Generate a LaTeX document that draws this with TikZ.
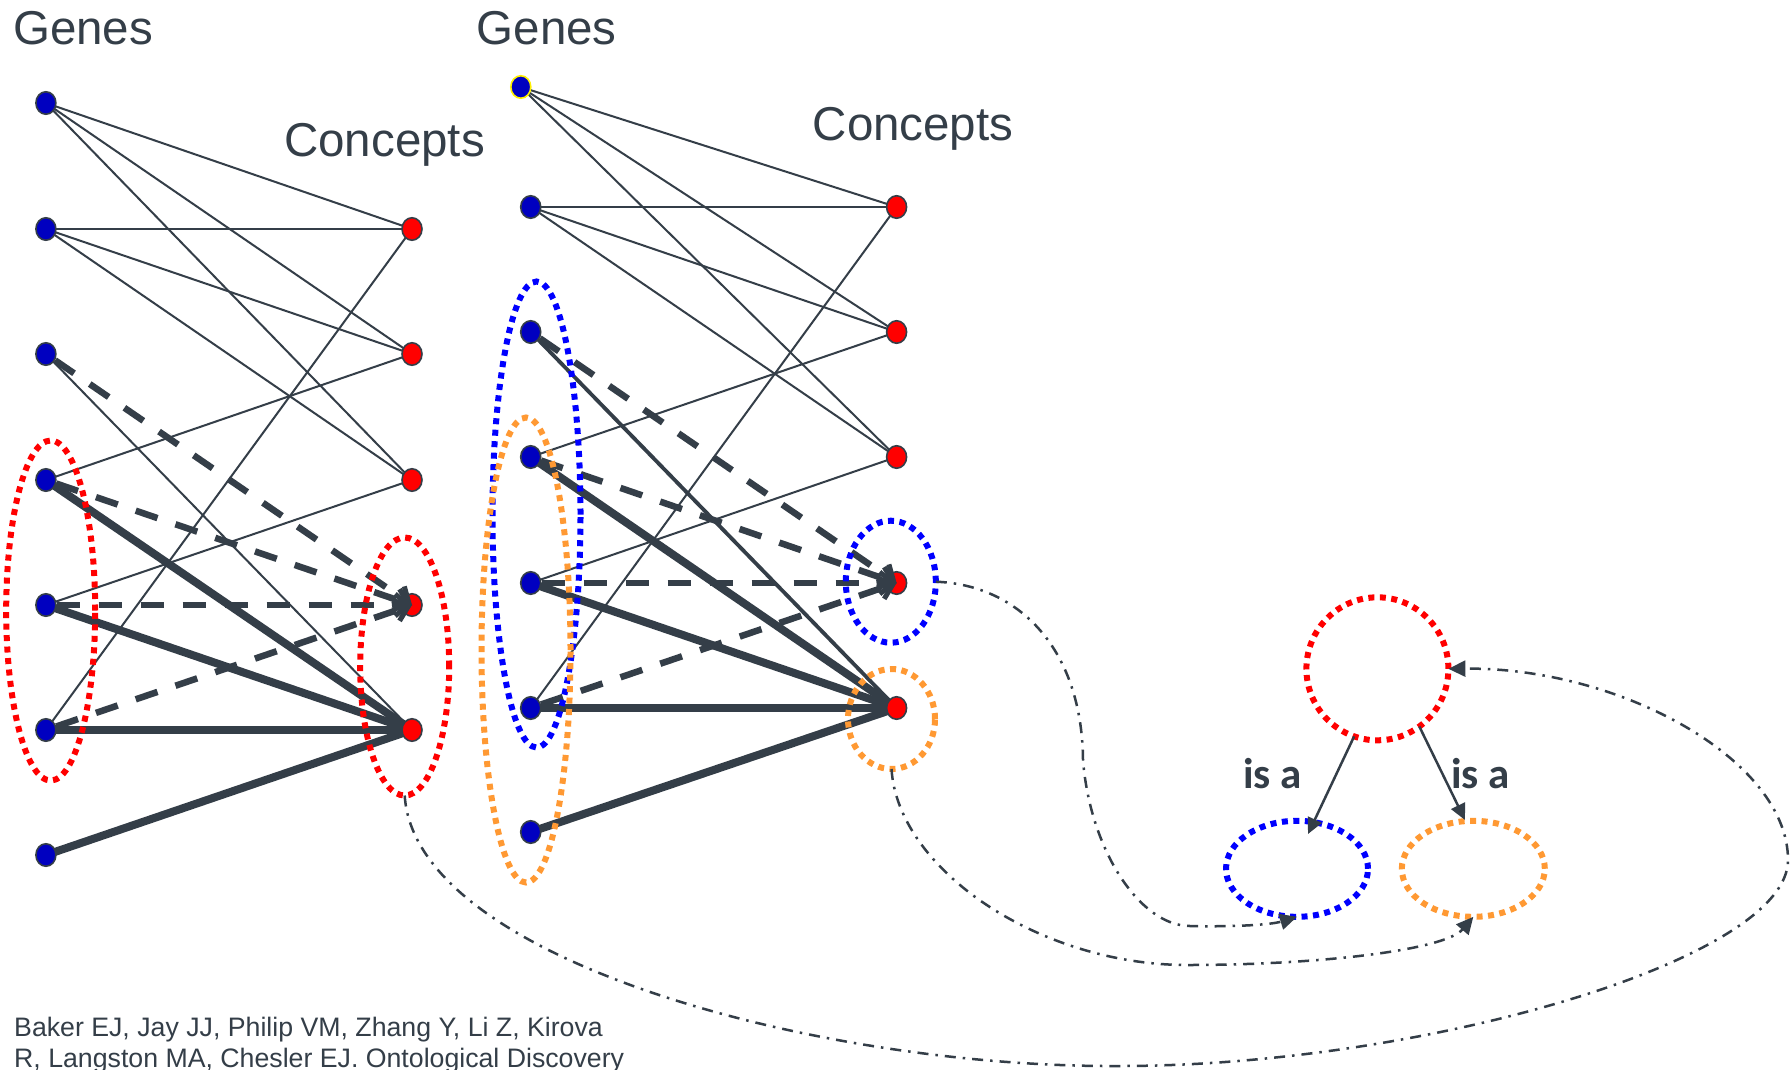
\documentclass[tikz,border=0pt]{standalone}
\usepackage{fontspec}
\setmainfont{Liberation Sans}
\newfontfamily\labelfont{Carlito}
\usetikzlibrary{shapes.geometric,arrows.meta,backgrounds}

\definecolor{ink}{RGB}{52,62,72}
\definecolor{geneblue}{RGB}{0,0,192}
\definecolor{conceptred}{RGB}{255,0,0}
\definecolor{ringblue}{RGB}{0,0,255}
\definecolor{ringorange}{RGB}{255,153,51}
\definecolor{ringred}{RGB}{255,0,0}
\definecolor{markyellow}{RGB}{255,240,0}

\begin{document}
\begin{tikzpicture}[x=1pt,y=-1pt,
  gene/.style={ellipse, draw=ink, line width=1.6pt, fill=geneblue,
    minimum width=20pt, minimum height=22.5pt, inner sep=0pt},
  concept/.style={gene, fill=conceptred},
  weak/.style={draw=ink, line width=2pt},
  mid/.style={draw=ink, line width=3.8pt},
  strong/.style={draw=ink, line width=8pt},
  dashedge/.style={draw=ink, line width=6.5pt, dash pattern=on 23pt off 19pt,
    -{Straight Barb[length=13pt,width=22pt,line width=5pt]}},
  ring/.style={ellipse, line width=6pt, dash pattern=on 6pt off 5.5pt,
    inner sep=0pt, outer sep=0pt},
  link/.style={draw=ink, line width=2.5pt,
    dash pattern=on 11pt off 7pt on 2.5pt off 7pt,
    -{Triangle[length=17pt,width=16pt]}},
  isa/.style={draw=ink, line width=2.5pt, -{Triangle[length=16pt,width=15pt]}},
  title/.style={anchor=base west, inner sep=0pt, text=ink,
    font=\fontsize{47.5}{56}\selectfont},
  isalabel/.style={anchor=base west, inner sep=0pt, text=ink,
    font=\labelfont\bfseries\fontsize{43}{50}\selectfont},
  citeline/.style={anchor=base west, inner sep=0pt, text=ink,
    font=\fontsize{26.7}{31}\selectfont},
]
\useasboundingbox (0,0) rectangle (1790,1070);

% titles
\node[title] (genesL) at (13,45) {Genes};
\node[title] (conceptsL) at (284,157) {Concepts};
\node[title] (genesR) at (476.5,45) {Genes};
\node[title] (conceptsR) at (812.5,140) {Concepts};

% first bipartite graph
\foreach \i/\y in {1/103,2/229,3/354,4/480,5/605,6/730,7/855}
  \node[gene] (g\i) at (45.9,\y) {};
\foreach \i/\y in {1/229,2/354,3/480,4/605,5/730}
  \node[concept] (c\i) at (412,\y) {};

% second bipartite graph
\node[gene, draw=markyellow] (h1) at (520.8,87) {};
\foreach \i/\y in {2/207,3/332,4/457,5/583,6/708,7/832}
  \node[gene] (h\i) at (530.7,\y) {};
\foreach \i/\y in {1/207,2/332,3/457,4/583,5/708}
  \node[concept] (d\i) at (896.6,\y) {};

% solid edges, under the nodes
\begin{scope}[on background layer]
  \fill[white] (0,0) rectangle (1790,1070);
  \foreach \a/\b in {1/1,1/2,1/3,2/1,2/2,2/3,3/5,4/2,5/3,6/1}
    \draw[weak] (g\a.center) -- (c\b.center);
  \foreach \a/\b in {1/1,1/2,1/3,2/1,2/2,2/3,4/2,5/3,6/1}
    \draw[weak] (h\a.center) -- (d\b.center);
  \draw[mid] (h3.center) -- (d5.center);
  \foreach \a in {4,5,6,7} {
    \draw[strong] (g\a.center) -- (c5.center);
    \draw[strong] (h\a.center) -- (d5.center);
  }
\end{scope}

% dashed arrows into the shared concept
\foreach \a in {3,4,5,6} {
  \draw[dashedge] (g\a) -- (c4.center);
  \draw[dashedge] (h\a) -- (d4.center);
}

% dotted groupings
\node[ring, draw=ringred, minimum width=89pt, minimum height=340pt] (redG) at (50.7,610.5) {};
\node[ring, draw=ringred, minimum width=89pt, minimum height=258pt] (redC) at (404.7,666.5) {};
\node[ring, draw=ringblue, minimum width=88pt, minimum height=466pt] (blueG) at (536.5,514.5) {};
\node[ring, draw=ringorange, minimum width=89pt, minimum height=465pt] (orangeG) at (526,650) {};
\node[ring, draw=ringblue, minimum width=90pt, minimum height=122pt] (blueD) at (890.8,581.7) {};
\node[ring, draw=ringorange, minimum width=87pt, minimum height=100pt] (orangeD) at (891.5,719) {};

% small ontology
\node[ring, draw=ringred, minimum width=142pt, minimum height=143pt] (redT) at (1377.4,668.8) {};
\node[ring, draw=ringblue, minimum width=142pt, minimum height=96pt] (blueT) at (1297,868.8) {};
\node[ring, draw=ringorange, minimum width=143pt, minimum height=96pt] (orangeT) at (1473.3,868.8) {};

\coordinate (isaTipL) at (1308,834);
\coordinate (isaTipR) at (1465,820);
\draw[isa] (redT.251) -- (isaTipL);
\draw[isa] (redT.306) -- (isaTipR);
\node[isalabel] (isaL) at (1243,788) {is a};
\node[isalabel] (isaR) at (1451,788) {is a};

% mappings from groups to ontology terms
\draw[link] (blueD.east) .. controls (1020,585) and (1082,650) .. (1083,760)
  .. controls (1090,850) and (1140,926) .. (1190,926)
  .. controls (1230,927) and (1270,925) .. (blueT.south);
\draw[link] (orangeD.south) .. controls (898,870) and (1040,965) .. (1187,965)
  .. controls (1320,965) and (1445,950) .. (orangeT.south);
\draw[link] (redC.south) .. controls (415,960) and (820,1068) .. (1120,1066)
  .. controls (1420,1066) and (1788,960) .. (1788,860)
  .. controls (1788,760) and (1620,667) .. (redT.east);

% reference
\node[citeline] (cite1) at (14,1036) {Baker EJ, Jay JJ, Philip VM, Zhang Y, Li Z, Kirova};
\node[citeline] (cite2) at (14,1067) {R, Langston MA, Chesler EJ. Ontological Discovery};
\end{tikzpicture}
\end{document}
